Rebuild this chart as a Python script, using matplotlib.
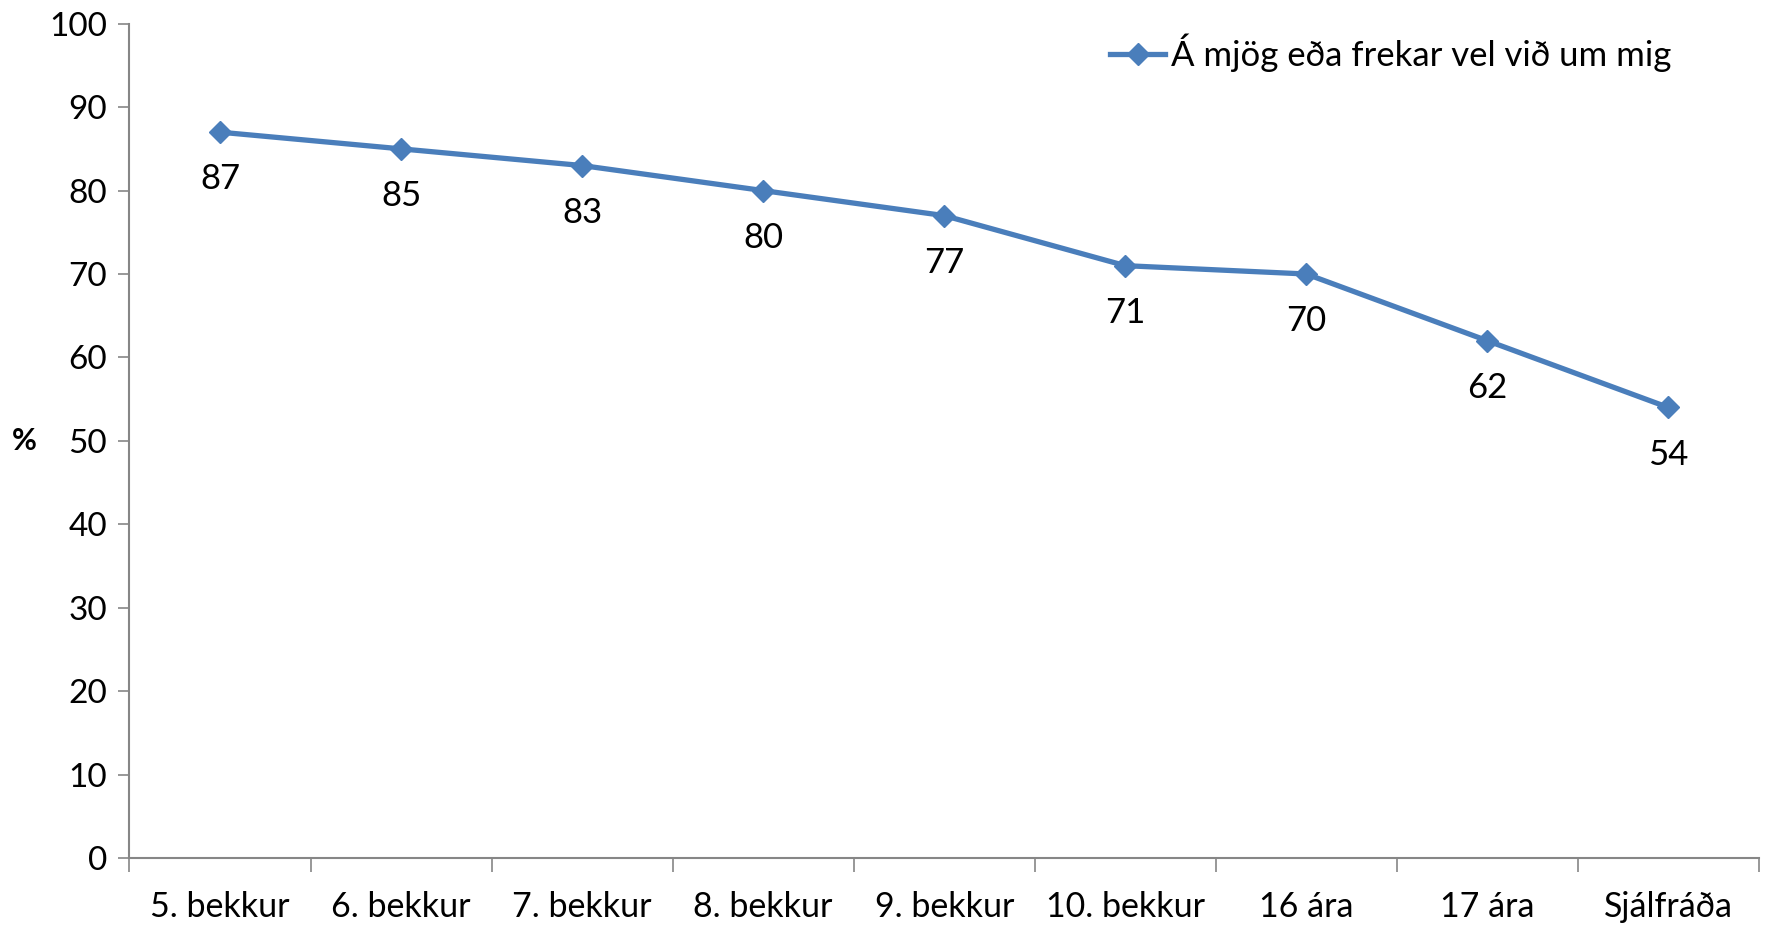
import matplotlib.pyplot as plt

plt.rcParams['font.family'] = ['Lato', 'DejaVu Sans']

categories = ['5. bekkur', '6. bekkur', '7. bekkur', '8. bekkur', '9. bekkur',
              '10. bekkur', '16 ára', '17 ára', 'Sjálfráða']
values = [87, 85, 83, 80, 77, 71, 70, 62, 54]
series_name = 'Á mjög eða frekar vel við um mig'
yticks = list(range(0, 101, 10))

blue = '#4A7EBB'
grey = '#868686'

fig = plt.figure(figsize=(17.66, 9.26), dpi=100)
ax = fig.add_axes([0.0733, 0.0734, 0.9227, 0.901])

x = list(range(len(categories)))
ax.plot(x, values, color=blue, lw=3.8, marker='D', ms=11, label=series_name)

# data labels under each point
for xi, v in zip(x, values):
    ax.annotate(str(v), (xi, v), xytext=(0, -34), textcoords='offset points',
                ha='center', va='center', fontsize=25)

ax.set_xlim(-0.5, len(categories) - 0.5)
ax.set_ylim(0, 100)
ax.set_yticks(yticks)
ax.tick_params(axis='y', labelsize=24, length=8, width=1.2, color=grey, pad=8)

# category labels centred, tick marks between categories (Excel style)
ax.set_xticks(x)
ax.set_xticklabels(categories)
ax.tick_params(axis='x', which='major', length=0, labelsize=24.5, pad=24)
ax.set_xticks([i - 0.5 for i in range(len(categories) + 1)], minor=True)
ax.tick_params(axis='x', which='minor', length=10, width=1.2, color=grey)

for s in ['top', 'right']:
    ax.spines[s].set_visible(False)
for s in ['left', 'bottom']:
    ax.spines[s].set_color(grey)
    ax.spines[s].set_linewidth(1.5)

ax.set_ylabel('%', rotation=0, fontsize=22, fontweight='bold', labelpad=18, va='center')

ax.legend(loc='center right', bbox_to_anchor=(0.946, 0.965), frameon=False, fontsize=25,
          handlelength=1.6, handletextpad=0.15, borderaxespad=0, borderpad=0)

fig.savefig('out.png')
